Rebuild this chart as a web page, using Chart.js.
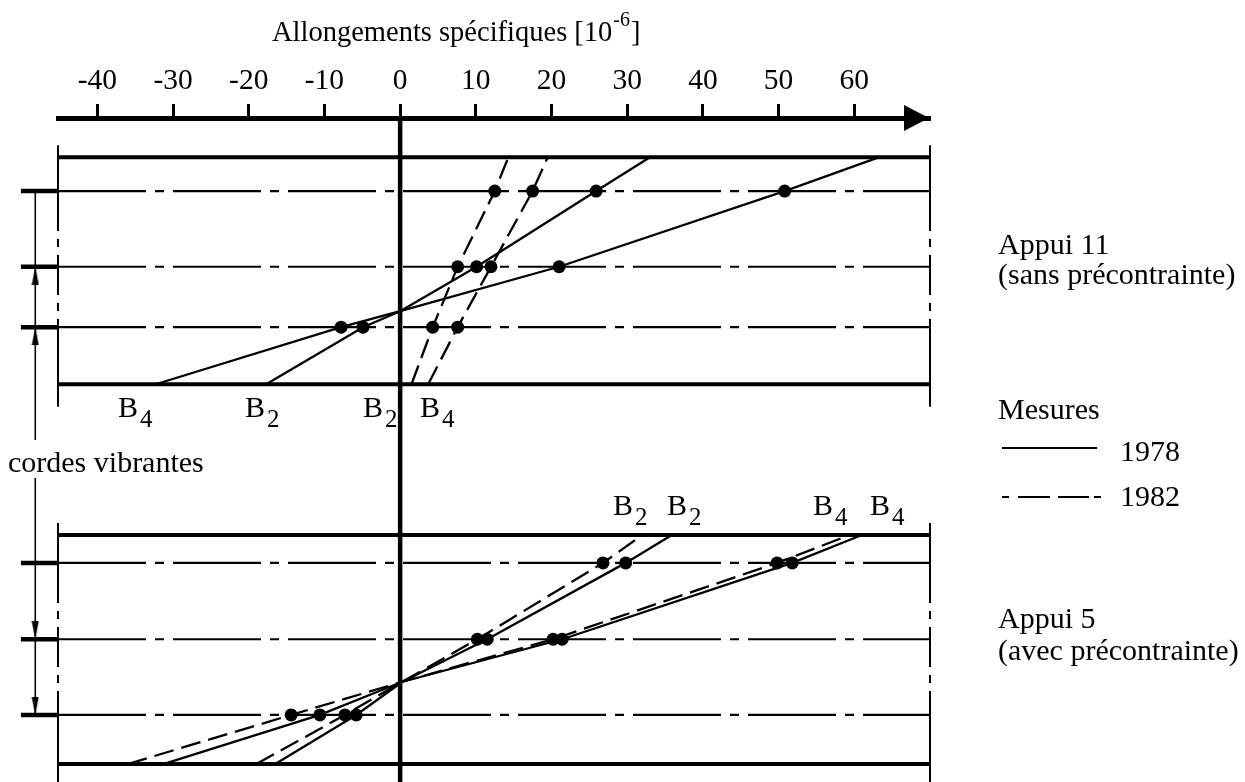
<!DOCTYPE html>
<html lang="fr">
<head>
<meta charset="utf-8">
<title>Allongements spécifiques</title>
<script src="https://cdn.jsdelivr.net/npm/chart.js@4"></script>
<style>
  html, body { margin: 0; padding: 0; background: #fff; }
  canvas { display: block; }
</style>
</head>
<body>
<canvas id="chart" width="1245" height="782"></canvas>
<script>
// graduations de l'axe des allongements [10^-6]
var graduations = [-40, -30, -20, -10, 0, 10, 20, 30, 40, 50, 60];
var xMin = -45.2, xMax = 70;
var xRepere = -50.1;   // repères des cordes, à gauche du cadre
var xCote = -48.2;     // ligne de cote des cordes vibrantes

// niveaux verticaux du dessin (0 = axe, 100 = bas)
var cordes11 = [11.0, 22.4, 31.5];   // cordes 1, 2, 3
var poutre11 = [5.9, 40.1];          // fibre sup., fibre inf.
var cadre11 = [4.1, 43.5];
var zero11 = [0, 29.1];              // passage à zéro (1978)
var cordes5 = [67.0, 78.5, 89.9];
var poutre5 = [62.8, 97.3];
var cadre5 = [61.0, 100];
var zero5 = [0.3, 84.9];
var coupureCote = [48.5, 54.2];

// Appui 11 (sans précontrainte) : mesures aux cordes 1, 2, 3
var a11_1978_B2 = [25.9, 10.1, -4.9];
var a11_1978_B4 = [50.8, 21.0, -7.8];
var a11_1982_B2 = [12.5, 7.6, 4.3];
var a11_1982_B4 = [17.5, 12.0, 7.6];
// valeurs extrapolées fibre sup. / fibre inf.
var a11_1978_B2_ext = [33.0, -17.7];
var a11_1978_B4_ext = [63.3, -32.3];
var a11_1982_B2_ext = [14.3, 1.5];
var a11_1982_B4_ext = [19.5, 3.7];

// Appui 5 (avec précontrainte)
var a5_1978_B2 = [29.8, 11.5, -5.8];
var a5_1982_B2 = [26.8, 10.2, -7.3];
var a5_1978_B4 = [51.8, 21.4, -10.6];
var a5_1982_B4 = [49.8, 20.2, -14.4];
var a5_1978_B2_ext = [35.9, -16.5];
var a5_1982_B2_ext = [32.0, -19.0];
var a5_1978_B4_ext = [61.0, -31.3];
var a5_1982_B4_ext = [59.4, -36.0];

var police = '"Liberation Serif", "Times New Roman", serif';
var tiret = [20, 8];
var traitPoint = [88, 9, 9, 9];

function profil(val, ext, cordes, poutre, zero) {
  var pts = [{x: ext[1], y: poutre[1]}, {x: val[2], y: cordes[2], m: 1}];
  if (zero) pts.push({x: zero[0], y: zero[1]});
  pts.push({x: val[1], y: cordes[1], m: 1}, {x: val[0], y: cordes[0], m: 1}, {x: ext[0], y: poutre[0]});
  return pts;
}

var datasets = [];
function ligne(points, opts) {
  var d = {data: points, showLine: true, borderColor: '#000', backgroundColor: '#000',
    borderWidth: 2.2, pointRadius: 0, clip: false, tension: 0};
  for (var k in opts) d[k] = opts[k];
  datasets.push(d);
}
var styleMesure = {borderWidth: 2.3, pointBorderWidth: 0, pointBackgroundColor: '#000',
  pointRadius: function (c) { return c.raw && c.raw.m ? 6.5 : 0; }};
function avecTiret(o) { var r = {}; for (var k in o) r[k] = o[k]; r.borderDash = tiret; return r; }

// profils 1978 (trait plein) et 1982 (tireté)
ligne(profil(a11_1978_B2, a11_1978_B2_ext, cordes11, poutre11, zero11), styleMesure);
ligne(profil(a11_1978_B4, a11_1978_B4_ext, cordes11, poutre11, zero11), styleMesure);
ligne(profil(a11_1982_B2, a11_1982_B2_ext, cordes11, poutre11, null), avecTiret(styleMesure));
ligne(profil(a11_1982_B4, a11_1982_B4_ext, cordes11, poutre11, null), avecTiret(styleMesure));
ligne(profil(a5_1978_B2, a5_1978_B2_ext, cordes5, poutre5, zero5), styleMesure);
ligne(profil(a5_1978_B4, a5_1978_B4_ext, cordes5, poutre5, zero5), styleMesure);
ligne(profil(a5_1982_B2, a5_1982_B2_ext, cordes5, poutre5, zero5), avecTiret(styleMesure));
ligne(profil(a5_1982_B4, a5_1982_B4_ext, cordes5, poutre5, zero5), avecTiret(styleMesure));

// flèches de cote
function fleche() {
  var c = document.createElement('canvas');
  c.width = 8; c.height = 36;
  var g = c.getContext('2d');
  g.fillStyle = '#000';
  g.beginPath(); g.moveTo(4, 18); g.lineTo(7.5, 36); g.lineTo(0.5, 36); g.closePath(); g.fill();
  return c;
}
var pointeFleche = fleche();
datasets.push({data: cordes11.map(function (v) { return {x: xCote, y: v}; }), showLine: false,
  pointStyle: pointeFleche, pointRadius: 30, pointRotation: 0, clip: false});
datasets.push({data: cordes5.map(function (v) { return {x: xCote, y: v}; }), showLine: false,
  pointStyle: pointeFleche, pointRadius: 30, pointRotation: 180, clip: false});

// axe vertical
ligne([{x: 0, y: 0}, {x: 0, y: 100}], {borderWidth: 4.5});

// sections : poutres, cordes, cadres
[[cordes11, poutre11, cadre11], [cordes5, poutre5, cadre5]].forEach(function (s) {
  var cordes = s[0], poutre = s[1], cadre = s[2];
  poutre.forEach(function (v) { ligne([{x: xMin, y: v}, {x: xMax, y: v}], {borderWidth: 4}); });
  cordes.forEach(function (v) {
    ligne([{x: xMin, y: v}, {x: xMax, y: v}], {borderWidth: 2.2, borderDash: traitPoint});
    ligne([{x: xRepere, y: v}, {x: xMin, y: v}], {borderWidth: 4.5});
  });
  [xMin, xMax].forEach(function (x) {
    ligne([{x: x, y: cadre[0]}, {x: x, y: cordes[0]}], {borderWidth: 2});
    ligne([{x: x, y: cordes[0]}, {x: x, y: cordes[2]}], {borderWidth: 2, borderDash: [40, 8, 8, 8]});
    ligne([{x: x, y: cordes[2]}, {x: x, y: cadre[1]}], {borderWidth: 2});
  });
});

// ligne de cote
ligne([{x: xCote, y: cordes11[0]}, {x: xCote, y: coupureCote[0]}], {borderWidth: 1.6});
ligne([{x: xCote, y: coupureCote[1]}, {x: xCote, y: cordes5[2]}], {borderWidth: 1.6});

function etiquetteB(ctx, indice, x, y) {
  ctx.font = '30px ' + police;
  ctx.fillText('B', x, y);
  var w = ctx.measureText('B').width;
  ctx.font = '25px ' + police;
  ctx.fillText(indice, x + w + 2, y + 10);
}

var habillage = {
  id: 'habillage',
  afterDraw: function (chart) {
    var ctx = chart.ctx, a = chart.chartArea;
    ctx.save();
    ctx.fillStyle = '#000';
    ctx.strokeStyle = '#000';
    ctx.textAlign = 'left';
    ctx.textBaseline = 'alphabetic';

    // pointe de l'axe
    ctx.beginPath();
    ctx.moveTo(a.right - 1, a.top);
    ctx.lineTo(a.right - 26, a.top - 13);
    ctx.lineTo(a.right - 26, a.top + 13);
    ctx.closePath();
    ctx.fill();

    // titre
    ctx.font = '28.5px ' + police;
    var t = 'Allongements spécifiques [10';
    ctx.fillText(t, 272, 41);
    var x = 272 + ctx.measureText(t).width;
    ctx.font = '20px ' + police;
    ctx.fillText('-6', x + 1, 26);
    x += ctx.measureText('-6').width + 2;
    ctx.font = '28.5px ' + police;
    ctx.fillText(']', x, 41);

    // repères B2 / B4
    etiquetteB(ctx, '4', 118, 417);
    etiquetteB(ctx, '2', 245, 417);
    etiquetteB(ctx, '2', 363, 417);
    etiquetteB(ctx, '4', 420, 417);
    etiquetteB(ctx, '2', 613, 515);
    etiquetteB(ctx, '2', 667, 515);
    etiquetteB(ctx, '4', 813, 515);
    etiquetteB(ctx, '4', 870, 515);

    ctx.font = '30px ' + police;
    ctx.fillText('cordes vibrantes', 8, 472);
    ctx.fillText('Appui 11', 998, 254);
    ctx.fillText('(sans précontrainte)', 998, 284);
    ctx.fillText('Mesures', 998, 419);
    ctx.fillText('1978', 1120, 461);
    ctx.fillText('1982', 1120, 506);
    ctx.fillText('Appui 5', 998, 628);
    ctx.fillText('(avec précontrainte)', 998, 660);

    // légende des traits
    ctx.lineWidth = 2.2;
    ctx.beginPath(); ctx.moveTo(1002, 448); ctx.lineTo(1097, 448); ctx.stroke();
    ctx.setLineDash([7, 9, 32, 8, 31, 5, 7, 100]);
    ctx.beginPath(); ctx.moveTo(1002, 497); ctx.lineTo(1101, 497); ctx.stroke();
    ctx.restore();
  }
};

new Chart(document.getElementById('chart'), {
  type: 'scatter',
  data: {datasets: datasets},
  options: {
    responsive: false,
    animation: false,
    events: [],
    layout: {autoPadding: false, padding: {left: 58, right: 315, top: 0, bottom: 0}},
    plugins: {legend: {display: false}, tooltip: {enabled: false}},
    scales: {
      x: {
        type: 'linear',
        position: 'top',
        min: xMin,
        max: xMax,
        afterFit: function (s) { s.height = 118; },
        afterBuildTicks: function (s) {
          s.ticks = graduations.map(function (v) { return {value: v}; });
        },
        ticks: {
          autoSkip: false, maxRotation: 0, padding: 5, color: '#000',
          font: {family: police, size: 29.5},
          callback: function (v) { return String(v); }
        },
        grid: {drawOnChartArea: false, drawTicks: true, tickLength: 14, tickWidth: 3, tickColor: '#000'},
        border: {display: true, color: '#000', width: 5}
      },
      y: {type: 'linear', display: false, reverse: true, min: 0, max: 100}
    }
  },
  plugins: [habillage]
});
</script>
</body>
</html>
